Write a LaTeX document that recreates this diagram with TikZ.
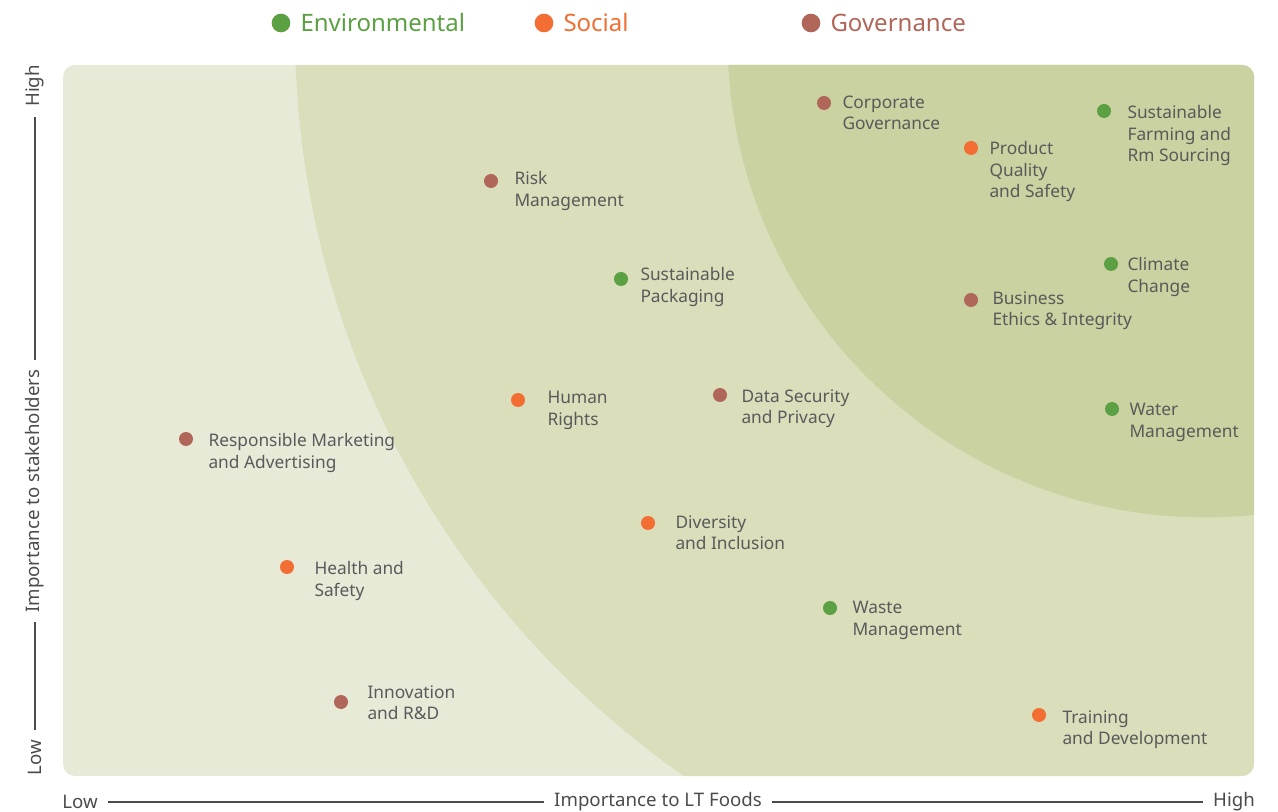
\documentclass[tikz,border=0pt]{standalone}
\usepackage{fontspec}
\setmainfont{Noto Sans}

\definecolor{bgLight}{RGB}{232,234,216}
\definecolor{bgMid}{RGB}{218,222,187}
\definecolor{bgDark}{RGB}{201,210,160}
\definecolor{envGreen}{RGB}{91,160,66}
\definecolor{socOrange}{RGB}{242,110,50}
\definecolor{govBrown}{RGB}{176,102,88}
\definecolor{lblGray}{RGB}{90,90,90}
\definecolor{axGray}{RGB}{75,75,75}

\tikzset{every picture/.style={line width=0.75pt}}
\tikzset{
  dotbase/.style={circle,inner sep=0pt,minimum size=10.5pt},
  envdot/.style={dotbase,fill=envGreen},
  socdot/.style={dotbase,fill=socOrange},
  govdot/.style={dotbase,fill=govBrown},
  legdot/.style={circle,inner sep=0pt,minimum size=14pt},
  legtxt/.style={anchor=west,inner sep=0.75pt,font=\fontsize{18}{21}\selectfont},
  lbl/.style={anchor=north west,inner sep=0pt,align=left,text=lblGray,font=\fontsize{13}{16}\selectfont},
  axtxt/.style={inner sep=7pt,text=axGray,font=\fontsize{14}{16}\selectfont},
  axline/.style={draw=axGray,line width=0.8pt}
}

\begin{document}
\begin{tikzpicture}[x=0.75pt,y=0.75pt,yscale=-1,xscale=1]
\useasboundingbox (0,0) rectangle (1278,812);

%Shape: background panel with the two bands
\begin{scope}
\clip[rounded corners=9pt] (63,65) rectangle (1254,776);
\fill[bgLight] (63,65) rectangle (1254,776);
\fill[bgMid] (1205,30) circle[radius=682.5pt];
\fill[bgDark] (1205,40) circle[radius=358pt];
\end{scope}

% Legend
\node[legdot,fill=envGreen] (legEnv) at (281,23) {};
\node[legtxt,text=envGreen] (legEnvT) at (299,23) {Environmental};
\node[legdot,fill=socOrange] (legSoc) at (544,23) {};
\node[legtxt,text=socOrange] (legSocT) at (562,23) {Social};
\node[legdot,fill=govBrown] (legGov) at (811,23) {};
\node[legtxt,text=govBrown] (legGovT) at (829,23) {Governance};

% Dots
\node[govdot] (corp) at (824,103) {};
\node[envdot] (farm) at (1104,111) {};
\node[socdot] (prod) at (971,148) {};
\node[govdot] (risk) at (491,181) {};
\node[envdot] (pack) at (621,279) {};
\node[envdot] (clim) at (1111,264) {};
\node[govdot] (ethic) at (971,300) {};
\node[socdot] (human) at (518,400) {};
\node[govdot] (data) at (720,395) {};
\node[envdot] (water) at (1112,409) {};
\node[govdot] (market) at (186,439) {};
\node[socdot] (divers) at (648,523) {};
\node[socdot] (health) at (287,567) {};
\node[envdot] (waste) at (830,608) {};
\node[govdot] (innov) at (341,702) {};
\node[socdot] (train) at (1039,715) {};

% Text Node
\node[lbl] (corpL) at (842,95) {Corporate\\Governance};
\node[lbl] (farmL) at (1127,105) {Sustainable\\Farming and\\Rm Sourcing};
\node[lbl] (prodL) at (989,141) {Product\\Quality\\and Safety};
\node[lbl] (riskL) at (514,171) {Risk\\Management};
\node[lbl] (packL) at (640,267) {Sustainable\\Packaging};
\node[lbl] (climL) at (1127,257) {Climate\\Change};
\node[lbl] (ethicL) at (992,291) {Business\\Ethics \& Integrity};
\node[lbl] (humanL) at (547,391) {Human\\Rights};
\node[lbl] (dataL) at (741,389) {Data Security\\and Privacy};
\node[lbl] (waterL) at (1129,403) {Water\\Management};
\node[lbl] (marketL) at (208,433) {Responsible Marketing\\and Advertising};
\node[lbl] (diversL) at (675,515) {Diversity\\and Inclusion};
\node[lbl] (healthL) at (314,561) {Health and\\Safety};
\node[lbl] (wasteL) at (852,601) {Waste\\Management};
\node[lbl] (innovL) at (367,685) {Innovation\\and R\&D};
\node[lbl] (trainL) at (1062,710) {Training\\and Development};

% Axes
\node[axtxt] (xLow) at (80,802) {Low};
\node[axtxt] (xTitle) at (658,802) {Importance to LT Foods};
\node[axtxt] (xHigh) at (1234,802) {High};
\draw[axline] (xLow) -- (xTitle);
\draw[axline] (xTitle) -- (xHigh);

\node[axtxt,rotate=90] (yLow) at (35,758) {Low};
\node[axtxt,rotate=90] (yTitle) at (35,491) {Importance to stakeholders};
\node[axtxt,rotate=90] (yHigh) at (35,86) {High};
\draw[axline] (yLow) -- (yTitle);
\draw[axline] (yTitle) -- (yHigh);

\end{tikzpicture}
\end{document}
